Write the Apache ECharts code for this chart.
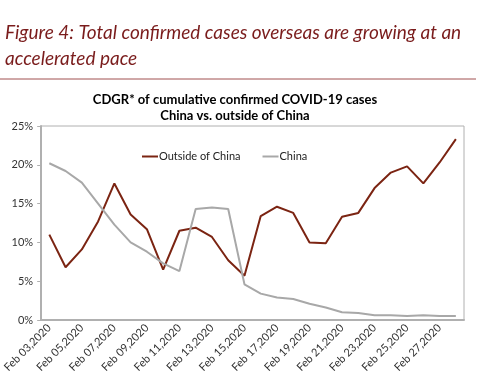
<!DOCTYPE html>
<html>
<head>
<meta charset="utf-8">
<script src="https://cdn.jsdelivr.net/npm/echarts@6/dist/echarts.min.js"></script>
<style>html,body{margin:0;padding:0;background:#fff;}#c{width:500px;height:388px;}</style>
</head>
<body>
<div id="c"></div>
<script>
const dates = ['Feb 03,2020','Feb 04,2020','Feb 05,2020','Feb 06,2020','Feb 07,2020','Feb 08,2020','Feb 09,2020','Feb 10,2020','Feb 11,2020','Feb 12,2020','Feb 13,2020','Feb 14,2020','Feb 15,2020','Feb 16,2020','Feb 17,2020','Feb 18,2020','Feb 19,2020','Feb 20,2020','Feb 21,2020','Feb 22,2020','Feb 23,2020','Feb 24,2020','Feb 25,2020','Feb 26,2020','Feb 27,2020','Feb 28,2020'];
const outsideChina = [11.0, 6.8, 9.1, 12.7, 17.6, 13.6, 11.7, 6.5, 11.5, 11.9, 10.7, 7.7, 5.7, 13.4, 14.6, 13.8, 10.0, 9.9, 13.3, 13.8, 17.0, 19.0, 19.8, 17.6, 20.3, 23.3];
const china = [20.2, 19.2, 17.7, 15.0, 12.3, 10.0, 8.8, 7.3, 6.3, 14.3, 14.5, 14.3, 4.6, 3.4, 2.9, 2.7, 2.1, 1.6, 1.0, 0.9, 0.6, 0.6, 0.5, 0.6, 0.5, 0.5];
const yTicks = [0, 5, 10, 15, 20, 25];

const chart = echarts.init(document.getElementById('c'));
const FONT = 'Lato';
chart.setOption({
  animation: false,
  graphic: [
    { type: 'text', left: 5, top: 23, style: { text: 'Figure 4: Total confirmed cases overseas are growing at an', font: 'italic 19px Lato', fill: '#7a1c1c' } },
    { type: 'text', left: 5, top: 49, style: { text: 'accelerated pace', font: 'italic 19px Lato', fill: '#7a1c1c' } },
    { type: 'line', shape: { x1: 0, y1: 79, x2: 476, y2: 79 }, style: { stroke: '#a05050', lineWidth: 1 } }
  ],
  title: {
    text: 'CDGR* of cumulative confirmed COVID-19 cases\nChina vs. outside of China',
    left: 230, top: 87, textAlign: 'center',
    textStyle: { fontFamily: FONT, fontWeight: 'bold', fontSize: 13, color: '#000', lineHeight: 16 }
  },
  legend: {
    top: 146, left: 137, itemGap: 22, itemWidth: 16, itemHeight: 2,
    icon: 'rect',
    textStyle: { fontFamily: FONT, fontSize: 11, color: '#222', padding: [0,0,0,-4] },
    data: ['Outside of China', 'China']
  },
  grid: { left: 39, right: 36, top: 126, bottom: 68, show: true, borderColor: '#b0b0b0', borderWidth: 1 },
  xAxis: {
    type: 'category', data: dates, boundaryGap: true,
    axisLine: { lineStyle: { color: '#b0b0b0', width: 2 } },
    axisTick: { interval: 1, alignWithLabel: false, length: 4, lineStyle: { color: '#b0b0b0' } },
    axisLabel: { interval: 1, rotate: 45, fontFamily: FONT, fontSize: 11, color: '#333', margin: 6 },
    splitLine: { show: false }
  },
  yAxis: {
    type: 'value', min: yTicks[0], max: yTicks[yTicks.length-1], interval: 5,
    axisLine: { show: true, lineStyle: { color: '#b0b0b0', width: 2 } },
    axisTick: { show: true, length: 4, lineStyle: { color: '#b0b0b0' } },
    axisLabel: { formatter: '{value}%', fontFamily: FONT, fontSize: 11, color: '#333', margin: 8 },
    splitLine: { show: false }
  },
  series: [
    { name: 'Outside of China', type: 'line', data: outsideChina, symbol: 'none', lineStyle: { color: '#7b2412', width: 2 }, itemStyle: { color: '#7b2412' } },
    { name: 'China', type: 'line', data: china, symbol: 'none', lineStyle: { color: '#a8a8a8', width: 2 }, itemStyle: { color: '#a8a8a8' } }
  ]
});
</script>
</body>
</html>
